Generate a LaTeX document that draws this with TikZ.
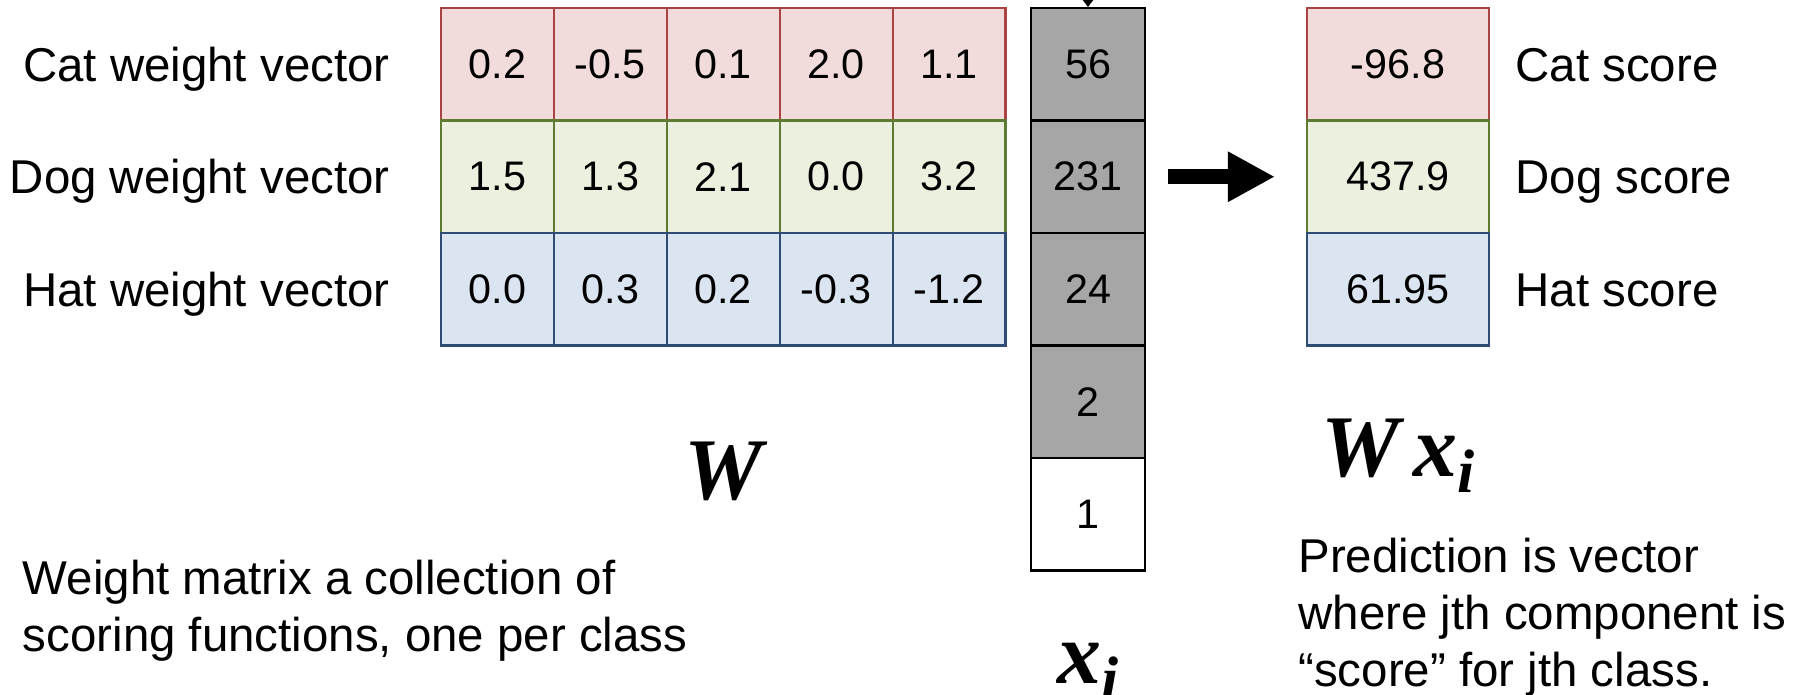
\documentclass[tikz,border=0pt]{standalone}
\usepackage{fontspec}
\setmainfont{Liberation Sans}
\newfontfamily\boldserif{Liberation Serif}
\usetikzlibrary{positioning,arrows.meta,calc}
\definecolor{catfill}{HTML}{F2DCDB}
\definecolor{catline}{HTML}{A94442}
\definecolor{dogfill}{HTML}{EBF1DE}
\definecolor{dogline}{HTML}{5F7A32}
\definecolor{hatfill}{HTML}{DBE5F1}
\definecolor{hatline}{HTML}{2E4C74}
\definecolor{xfill}{HTML}{A6A6A6}
\tikzset{
  cell/.style={draw, line width=1.2pt, minimum width=2.258cm, minimum height=2.25cm, inner sep=0pt, font=\fontsize{23.5}{28}\selectfont},
  catcell/.style={cell, fill=catfill, draw=catline},
  dogcell/.style={cell, fill=dogfill, draw=dogline},
  hatcell/.style={cell, fill=hatfill, draw=hatline},
  xcell/.style={cell, minimum width=2.28cm, fill=xfill, draw=black},
  scorecell/.style={minimum width=3.64cm},
  rowlbl/.style={font=\fontsize{27}{32.4}\selectfont, inner sep=0pt},
  note/.style={font=\fontsize{27}{32.4}\selectfont, align=left, inner sep=0pt},
  bigsym/.style={font=\boldserif\bfseries\itshape\fontsize{50}{50}\selectfont, inner sep=0pt},
  bigarrow/.style={-{Triangle[length=0.94cm, width=0.94cm]}, line width=0.3cm},
  inarrow/.style={-{Triangle[length=0.16cm, width=0.24cm]}, line width=0.8pt}
}

\begin{document}
\begin{tikzpicture}
  \useasboundingbox (0,0) rectangle (36.12,-13.88);
  % weight matrix W
  \foreach \v [count=\c] in {0.2,-0.5,0.1,2.0,1.1}
    \node[catcell] (w1\c) at ({9.949+(\c-1)*2.258},-1.285) {\v};
  \foreach \v [count=\c] in {1.5,1.3,2.1,0.0,3.2}
    \node[dogcell] (w2\c) at ({9.949+(\c-1)*2.258},-3.535) {\v};
  \foreach \v [count=\c] in {0.0,0.3,0.2,-0.3,-1.2}
    \node[hatcell] (w3\c) at ({9.949+(\c-1)*2.258},-5.785) {\v};
  \node[rowlbl, anchor=base east] (lcat) at ($(w11.west)+(-1,-0.34)$) {Cat weight vector};
  \node[rowlbl, anchor=base east] (ldog) at ($(w21.west)+(-1,-0.34)$) {Dog weight vector};
  \node[rowlbl, anchor=base east] (lhat) at ($(w31.west)+(-1,-0.34)$) {Hat weight vector};
  % input x_i
  \foreach \v [count=\r] in {56,231,24,2}
    \node[xcell] (x\r) at (21.76,{-1.285-(\r-1)*2.25}) {\v};
  \node[xcell, fill=white] (x5) at (21.76,-10.285) {1};
  \coordinate (xin) at ($(x1.north)+(0,1)$);
  \draw[inarrow] (xin) -- (x1.north);
  % scores
  \node[catcell, scorecell] (s1) at (27.96,-1.285) {-96.8};
  \node[dogcell, scorecell] (s2) at (27.96,-3.535) {437.9};
  \node[hatcell, scorecell] (s3) at (27.96,-5.785) {61.95};
  \node[rowlbl, anchor=base west] (scat) at ($(s1.east)+(0.5,-0.34)$) {Cat score};
  \node[rowlbl, anchor=base west] (sdog) at ($(s2.east)+(0.5,-0.34)$) {Dog score};
  \node[rowlbl, anchor=base west] (shat) at ($(s3.east)+(0.5,-0.34)$) {Hat score};
  \draw[bigarrow, shorten <=0.44cm, shorten >=0.62cm] (x2) -- (s2);
  % symbols
  \node[bigsym, anchor=base] (Wsym) at ($(w33.south)+(0,-3.05)$) {W};
  \node[bigsym, anchor=base] (xsym) at ($(x5.south)+(0,-2.23)$) {x\raisebox{-0.19em}{\fontsize{35}{35}\selectfont i}};
  \node[bigsym, anchor=base] (Wxsym) at ($(s3.south)+(0,-2.59)$) {W\,x\raisebox{-0.19em}{\fontsize{35}{35}\selectfont i}};
  % notes
  \node[note, anchor=north west] (leftnote) at (0.45,-11.19) {Weight matrix a collection of\\scoring functions, one per class};
  \node[note, anchor=north west] (rightnote) at (25.96,-10.76) {Prediction is vector\\where jth component is\\``score'' for jth class.};
\end{tikzpicture}
\end{document}
